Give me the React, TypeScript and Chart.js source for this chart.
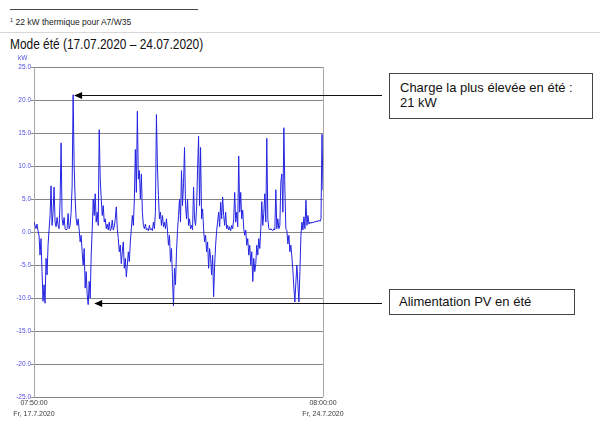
import React, { useEffect, useRef } from 'react';
import { Chart, registerables } from 'chart.js';

Chart.register(...registerables);

// Power in kW, one reading per sample, 17.07.2020 07:50 -> 24.07.2020 08:00
const loadKW: number[] = [
  1.5, 1.0, 0.5, 1.2, 0.2, -0.5, -3.5, -1.0, -6.0, -10.5,
  -8.0, -10.8, -4.0, -6.5, -2.0, 0.3, 2.5, 7.0, 1.0, 3.0,
  6.8, 1.5, 0.8, 2.2, 1.0, 0.5, 4.8, 13.5, 2.0, 1.0,
  2.2, 0.5, 0.3, 0.5, 2.8, 0.5, 1.0, 3.0, 7.0, 20.8,
  10.0, 5.0, 2.0, 1.0, 2.0, 0.3, -1.5, -0.5, -3.0, -5.0,
  -2.5, -8.5, -6.0, -9.5, -11.0, -7.5, -10.0, -3.5, 0.2, 5.0,
  2.5, 5.8, 1.5, 3.0, 1.0, 15.5, 8.0, 5.0, 2.5, 4.0,
  1.5, 2.0, 0.5, 1.2, 0.3, 1.5, 0.2, 0.5, 1.8, 0.3,
  0.8, 2.0, 3.8, 0.5, -1.0, -3.0, -2.0, -4.8, -3.0, -1.5,
  -5.5, -4.0, -6.8, -5.0, -3.0, -4.5, -1.5, 0.5, 2.5, 1.0,
  5.0, 12.5, 6.0, 18.3, 8.0, 9.3, 5.0, 8.8, 3.0, 1.0,
  0.5, 1.2, 0.3, 0.5, 0.2, 1.0, 0.3, 0.5, 0.2, 1.5,
  0.5, 3.0, 17.8, 10.0, 5.5, 2.0, 3.0, 1.0, 2.5, 0.8,
  1.5, 0.5, 2.0, 0.3, -2.0, -0.5, -4.5, -2.5, -7.0, -11.2,
  -5.5, -8.0, -3.0, 0.2, 2.5, 5.0, 1.5, 9.3, 4.0, 7.3,
  12.8, 4.0, 2.0, 5.0, 1.0, 2.0, 0.5, 1.0, 0.3, 6.8,
  2.0, 1.0, 3.5, 9.5, 14.5, 4.0, 12.8, 2.0, 3.5, 0.5,
  -1.5, -0.5, -3.0, -1.5, -5.5, -2.5, -4.0, -6.5, -3.5, -9.8,
  -5.0, -2.0, 0.2, 1.5, 3.0, 0.8, 4.5, 2.0, 5.3, 2.5,
  1.0, 3.0, 0.5, 1.0, 0.3, 0.8, 0.2, 1.0, 0.5, 2.0,
  6.0, 1.5, 3.0, 0.8, 11.5, 3.0, 6.0, 2.0, 3.3, 0.5,
  -0.5, 0.3, -2.0, -1.0, -3.5, -2.0, -5.0, -3.0, -7.5, -4.0,
  -6.0, -4.8, -2.0, -3.5, -1.0, -2.5, 0.5, 4.6, 1.0, 2.8,
  5.8, 1.5, 14.2, 2.0, 0.5, 0.3, 0.5, 0.3, 0.2, 0.5,
  0.3, 6.4, 0.5, 2.0, 0.5, 1.0, 7.6, 8.8, 3.0, 15.8,
  6.5, 0.5, 0.2, -1.8, -0.5, -3.0, -2.0, -3.8, -5.8, -8.5,
  -10.6, -7.5, -5.0, -8.0, -10.6, -6.0, -0.5, 1.5, 0.3, 2.3,
  0.5, 4.8, 1.0, 2.5, 1.2, 1.5, 1.3, 1.5, 1.4, 1.5,
  1.6, 1.5, 1.7, 1.6, 1.8, 1.6, 2.0, 14.8, 6.3,
];

const yMin = -25;
const yMax = 25;
const yStep = 5;
const yUnit = 'kW';
const xStartLabel = ['07:50:00', 'Fr, 17.7.2020'];
const xEndLabel = ['08:00:00', 'Fr, 24.7.2020'];

const titleText = 'Mode été (17.07.2020 – 24.07.2020)';
const footnoteText = '22 kW thermique pour A7/W35';
const peakNote = ['Charge la plus élevée en été :', '21 kW'];
const pvNote = 'Alimentation PV en été';

// annotation anchors (in data terms)
const peakIdx = 39;
const peakVal = 20.8;
const pvIdx = 60;
const pvVal = -10.7;

const BLUE_TXT = 'rgb(80,80,230)';

function drawArrow(ctx: CanvasRenderingContext2D, tipX: number, tipY: number, endX: number, endY: number) {
  ctx.beginPath();
  ctx.moveTo(tipX + 6, tipY);
  ctx.lineTo(endX, endY);
  ctx.stroke();
  ctx.beginPath();
  ctx.moveTo(tipX, tipY);
  ctx.lineTo(tipX + 8, tipY - 3.5);
  ctx.lineTo(tipX + 8, tipY + 3.5);
  ctx.closePath();
  ctx.fill();
}

const annotPlugin = {
  id: 'annotArrows',
  afterDraw(chart: any) {
    const { ctx, chartArea: a, scales } = chart;
    const x = scales.x;
    const y = scales.y;
    ctx.save();
    ctx.strokeStyle = '#a8a8a8';
    ctx.lineWidth = 1;
    ctx.beginPath();
    ctx.moveTo(Math.round(a.right) + 0.5, a.top);
    ctx.lineTo(Math.round(a.right) + 0.5, a.bottom);
    ctx.stroke();

    ctx.strokeStyle = '#111';
    ctx.fillStyle = '#000';
    ctx.lineWidth = 1;
    const p1x = x.getPixelForValue(peakIdx) + 1;
    const p1y = Math.round(y.getPixelForValue(peakVal)) + 0.5;
    drawArrow(ctx, p1x, p1y, 382, p1y);
    const p2x = x.getPixelForValue(pvIdx);
    const p2y = Math.round(y.getPixelForValue(pvVal)) + 0.5;
    drawArrow(ctx, p2x, p2y, 382, p2y);
    ctx.restore();
  },
};

export default function App() {
  const ref = useRef<HTMLCanvasElement | null>(null);

  useEffect(() => {
    if (!ref.current) return;
    const n = loadKW.length;
    const chart = new Chart(ref.current, {
      type: 'line',
      data: {
        datasets: [
          {
            data: loadKW.map((v, i) => ({ x: i, y: v })),
            borderColor: 'rgb(35,35,225)',
            borderWidth: 1,
            pointRadius: 0,
            tension: 0,
            fill: false,
          },
        ],
      },
      options: {
        responsive: false,
        animation: false,
        devicePixelRatio: 1,
        layout: { padding: { left: 0, top: 67, right: 277, bottom: 0 } },
        plugins: { legend: { display: false }, tooltip: { enabled: false } },
        scales: {
          x: {
            type: 'linear',
            min: 0,
            max: n - 1,
            afterBuildTicks: (s: any) => {
              s.ticks = [{ value: 0 }, { value: n - 1 }];
            },
            afterFit: (s: any) => {
              s.height = 26;
            },
            grid: { display: false, drawTicks: false },
            border: { display: false },
            ticks: {
              autoSkip: false,
              maxRotation: 0,
              minRotation: 0,
              padding: 1,
              color: '#3a3a3a',
              font: { family: '"Liberation Sans", Arial, sans-serif', size: 7, lineHeight: 1.5 },
              callback: (_v: any, i: number) => (i === 0 ? xStartLabel : xEndLabel),
            },
          },
          y: {
            min: yMin,
            max: yMax,
            afterFit: (s: any) => {
              s.width = 34;
            },
            grid: { color: '#858585', lineWidth: 1, drawTicks: true, tickLength: 3 },
            border: { color: '#a8a8a8' },
            ticks: {
              stepSize: yStep,
              padding: 0,
              color: BLUE_TXT,
              font: { family: '"Liberation Sans", Arial, sans-serif', size: 6.5 },
              callback: (v: any) => Number(v).toFixed(1),
            },
          },
        },
      },
      plugins: [annotPlugin],
    });
    return () => chart.destroy();
  }, []);

  const font = '"Liberation Sans", Arial, sans-serif';

  return (
    <div
      style={{
        position: 'absolute',
        left: 0,
        top: 0,
        width: 600,
        height: 423,
        background: '#fff',
        overflow: 'hidden',
        fontFamily: font,
      }}
    >
      <div style={{ position: 'absolute', left: 10, top: 9, width: 188, height: 1, background: '#444' }} />
      <div
        style={{
          position: 'absolute',
          left: 10,
          top: 16,
          fontSize: 8.5,
          lineHeight: '12px',
          color: '#222',
          whiteSpace: 'nowrap',
        }}
      >
        <span style={{ fontSize: 5.5, position: 'relative', top: -3 }}>1</span> {footnoteText}
      </div>
      <div style={{ position: 'absolute', left: 0, top: 32, width: 600, height: 1, background: '#d8d8d8' }} />
      <div
        style={{
          position: 'absolute',
          left: 10,
          top: 36,
          fontSize: 14,
          lineHeight: '16px',
          color: '#111',
          whiteSpace: 'nowrap',
          transform: 'scaleX(0.85)',
          transformOrigin: 'left top',
        }}
      >
        {titleText}
      </div>
      <canvas ref={ref} width={600} height={423} style={{ position: 'absolute', left: 0, top: 0, width: 600, height: 423 }} />
      <div
        style={{
          position: 'absolute',
          left: 18,
          top: 54,
          fontSize: 6.5,
          lineHeight: '8px',
          color: BLUE_TXT,
        }}
      >
        {yUnit}
      </div>
      <div
        style={{
          position: 'absolute',
          left: 389,
          top: 73,
          width: 204,
          height: 46,
          border: '1px solid #444',
          boxSizing: 'border-box',
          padding: '6px 0 0 10px',
          fontSize: 13,
          lineHeight: '15px',
          color: '#111',
          background: '#fff',
          whiteSpace: 'nowrap',
        }}
      >
        {peakNote[0]}
        <br />
        {peakNote[1]}
      </div>
      <div
        style={{
          position: 'absolute',
          left: 389,
          top: 289,
          width: 186,
          height: 26,
          border: '1px solid #444',
          boxSizing: 'border-box',
          padding: '4px 0 0 9px',
          fontSize: 13,
          lineHeight: '15px',
          color: '#111',
          background: '#fff',
          whiteSpace: 'nowrap',
        }}
      >
        {pvNote}
      </div>
    </div>
  );
}
